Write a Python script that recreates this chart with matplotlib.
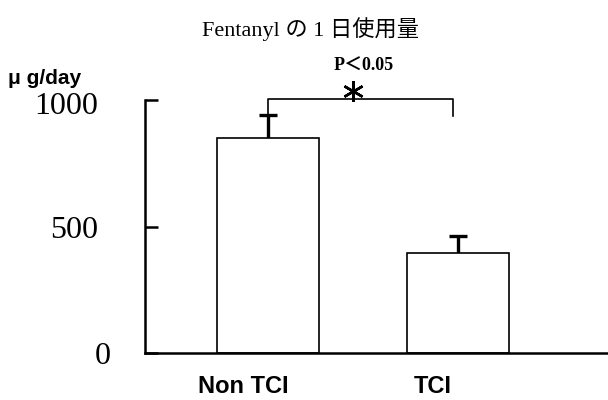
import matplotlib
matplotlib.use("Agg")
import matplotlib.pyplot as plt
from matplotlib.transforms import ScaledTranslation

groups = ["Non TCI", "TCI"]
means = [850, 395]
sem = [90, 67]
yticks = [0, 500, 1000]

serif_jp = ["Liberation Serif", "Noto Sans CJK JP"]

fig = plt.figure(figsize=(6.08, 4.0), dpi=100)
ax = fig.add_axes([145 / 608, 47 / 400, 463 / 608, 253 / 400])

x = range(len(groups))
ax.bar(x, means, width=0.537, color="white", edgecolor="black", linewidth=1.2, zorder=2)
_, caps, _ = ax.errorbar(x, means, yerr=[[0] * len(sem), sem], fmt="none", ecolor="black",
                         elinewidth=2.4, capsize=6.5, capthick=2.4, zorder=1)
# upper error only: hide the cap sitting on the bar top
caps[0].set_visible(False)

ax.set_xlim(-0.647, 1.789)
ax.set_ylim(0, 1000)
for side in ("top", "right"):
    ax.spines[side].set_visible(False)
ax.spines["left"].set_linewidth(1.8)
ax.spines["bottom"].set_linewidth(1.8)
ax.spines["left"].set_bounds(0, 1000)

ax.set_yticks(yticks)
ax.set_yticklabels([str(v) for v in yticks], fontsize=23, family="Liberation Serif")
ax.tick_params(axis="y", direction="in", length=9, width=1.8, pad=34)
# the zero label sits a little further right
ax.get_yticklabels()[0].set_transform(
    ax.get_yticklabels()[0].get_transform() + ScaledTranslation(13 / 100, 0, fig.dpi_scale_trans))
ax.get_yticklabels()[2].set_transform(
    ax.get_yticklabels()[2].get_transform() + ScaledTranslation(0, -3 / 100, fig.dpi_scale_trans))

ax.set_xticks(list(x))
ax.set_xticklabels(groups, fontsize=17, fontweight="bold", family="Liberation Sans")
ax.tick_params(axis="x", length=0, pad=16)
shift = ScaledTranslation(-25 / 100, 0, fig.dpi_scale_trans)
for lab in ax.get_xticklabels():
    lab.set_transform(lab.get_transform() + shift)

# significance bracket
ax.plot([0, 0, 0.976, 0.976], [937, 1004, 1004, 937], color="black", lw=1.2, clip_on=False)
ax.plot([0.447], [1036], marker=(6, 2, 0), ms=15, mew=1.8, color="black", clip_on=False)
fig.text(364 / 608, 1 - 66 / 400, "P＜0.05", ha="center", va="center",
         fontsize=13, fontweight="bold", family=serif_jp)

fig.text(311 / 608, 1 - 29 / 400, "Fentanyl の 1 日使用量", ha="center", va="center",
         fontsize=16, family=serif_jp)
fig.text(8 / 608, 1 - 79 / 400, "μ g/day", ha="left", va="center",
         fontsize=15, fontweight="bold", family="Liberation Sans")

fig.savefig("out.png", dpi=100)
